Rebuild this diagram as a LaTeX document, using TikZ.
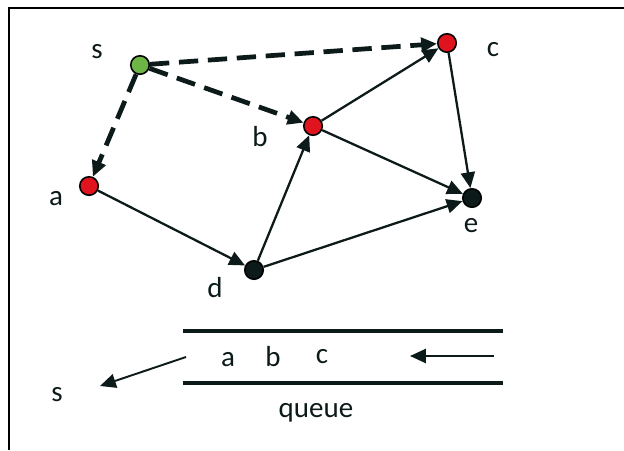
\documentclass[tikz,border=0pt]{standalone}
\usepackage{fontspec}
\setmainfont{Carlito}
\usetikzlibrary{arrows.meta}
\definecolor{rojo}{HTML}{E0141E}
\definecolor{verde}{HTML}{6DB545}
\definecolor{oscuro}{HTML}{0D1A1A}
\tikzset{
  vertice/.style={circle, draw=black, line width=0.9pt, minimum size=0.37cm, inner sep=0pt},
  arista/.style={line width=1.3pt, draw=oscuro, -{Triangle[length=9pt,width=8pt]}},
  visita/.style={line width=2.7pt, draw=oscuro, dash pattern=on 11pt off 5.5pt, -{Triangle[length=9pt,width=8pt]}},
  etiqueta/.style={font=\fontsize{16.5}{19}\selectfont, text=oscuro, inner sep=0pt},
  cola/.style={line width=2.8pt, draw=oscuro}
}
\begin{document}
\begin{tikzpicture}[x=0.02cm, y=-0.02cm]
    \useasboundingbox (0,0) rectangle (624,450);
    % Marco
    \draw[line width=1.2pt] (9,450) -- (9,8) -- (624,8);

    % Definir los vertices
    \node[vertice, fill=verde] (s) at (140,65) {};
    \node[vertice, fill=rojo] (c) at (447,43) {};
    \node[vertice, fill=rojo] (b) at (313,126) {};
    \node[vertice, fill=rojo] (a) at (89,186) {};
    \node[vertice, fill=oscuro] (e) at (472,198) {};
    \node[vertice, fill=oscuro] (d) at (254,270) {};

    % Etiquetas de los vertices
    \node[etiqueta] (ls) at (97,52) {s};
    \node[etiqueta] (lc) at (493,50) {c};
    \node[etiqueta] (lb) at (260,137) {b};
    \node[etiqueta] (la) at (56,199) {a};
    \node[etiqueta] (le) at (471,226) {e};
    \node[etiqueta] (ld) at (215,288) {d};

    % Aristas visitadas desde s
    \draw[visita] (s) -- (c);
    \draw[visita] (s) -- (b);
    \draw[visita] (s) -- (a);

    % Resto de aristas
    \draw[arista] (a) -- (d);
    \draw[arista] (d) -- (b);
    \draw[arista] (b) -- (c);
    \draw[arista] (c) -- (e);
    \draw[arista] (b) -- (e);
    \draw[arista] (d) -- (e);

    % La cola
    \draw[cola] (183,331) -- (503,331);
    \draw[cola] (183,383) -- (503,383);
    \node[etiqueta] (qa) at (228,360) {a};
    \node[etiqueta] (qb) at (273,357) {b};
    \node[etiqueta] (qc) at (322,357) {c};
    \node[etiqueta] (qs) at (57,395) {s};
    \node[etiqueta] (cola) at (316,413) {queue};
    \coordinate (entra) at (494,356);
    \coordinate (entra2) at (410,356);
    \coordinate (sale) at (186,357);
    \coordinate (sale2) at (100,386);
    \draw[arista, line width=1.1pt] (entra) -- (entra2);
    \draw[arista, line width=1.1pt] (sale) -- (sale2);
\end{tikzpicture}
\end{document}
